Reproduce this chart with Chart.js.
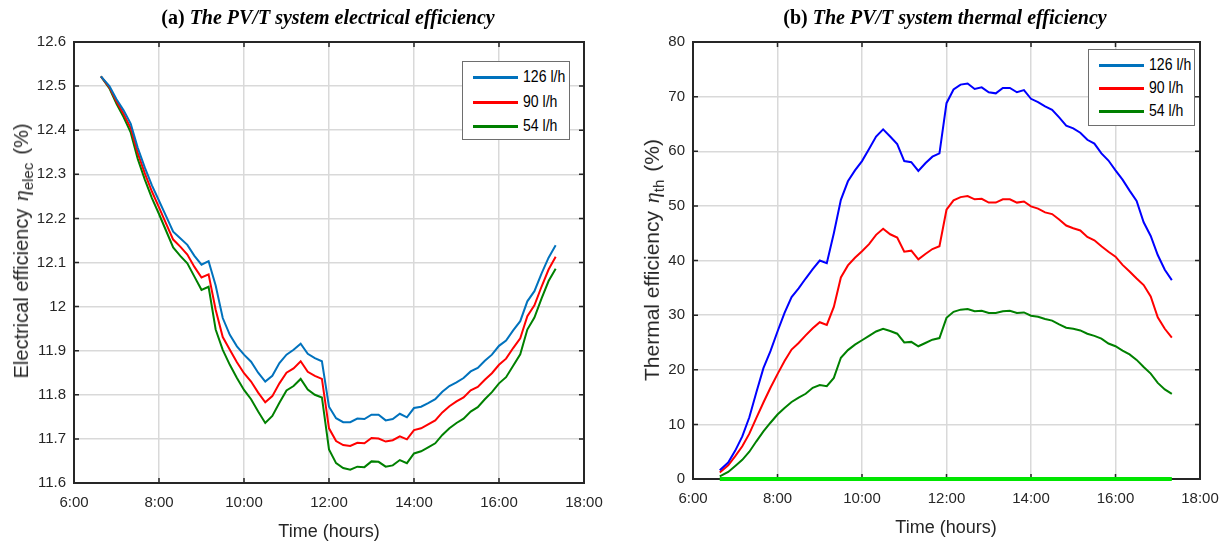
<!DOCTYPE html>
<html>
<head>
<meta charset="utf-8">
<script src="https://cdn.jsdelivr.net/npm/chart.js@4.4.1/dist/chart.umd.min.js"></script>
<style>
  body{margin:0;background:#fff;width:1228px;height:546px;position:relative;overflow:hidden;font-family:"Liberation Sans",Arial,sans-serif;color:#262626;}
  .box{position:absolute;top:0;height:546px;}
  .title{position:absolute;top:6px;transform:translateX(-50%);white-space:nowrap;font-family:"Liberation Serif","Times New Roman",serif;font-weight:bold;font-size:20px;color:#000;}
  .title i{font-style:italic;}
  .xlab{position:absolute;transform:translate(-50%,-50%);font-size:18px;white-space:nowrap;}
  .ylab{position:absolute;transform:translate(-50%,-50%) rotate(-90deg);font-size:20px;white-space:nowrap;}
  .ylab i{font-family:"Liberation Serif",serif;font-size:22px;margin-left:2px;}
  .ylab sub{font-size:15px;margin-right:8px;}
  .legend{position:absolute;background:#fff;border:1px solid #6e6e6e;font-family:"Liberation Sans",Arial,sans-serif;font-size:16px;color:#000;}
  .legend div{position:absolute;left:10px;height:20px;line-height:20px;white-space:nowrap;}
  .legend span.ln{display:inline-block;width:45px;height:3px;vertical-align:middle;margin-right:5px;}
  .legend span.tx{display:inline-block;transform:scaleX(0.88);transform-origin:left center;}
</style>
</head>
<body>
<div class="box" style="left:0;width:614px;"><canvas id="elecChart"></canvas></div>
<div class="box" style="left:614px;width:614px;"><canvas id="thermChart"></canvas></div>

<div class="title" style="left:328px;">(a) <i>The PV/T system electrical efficiency</i></div>
<div class="title" style="left:945px;">(b) <i>The PV/T system thermal efficiency</i></div>
<div class="xlab" style="left:329px;top:531px;">Time (hours)</div>
<div class="xlab" style="left:946px;top:527px;">Time (hours)</div>
<div class="ylab" style="left:22px;top:251px;">Electrical efficiency <i>η</i><sub>elec</sub>(%)</div>
<div class="ylab" style="left:653px;top:260px;font-size:21px;">Thermal efficiency <i>η</i><sub>th</sub>(%)</div>
<div class="legend" id="elecLegend" style="left:462px;top:61px;width:106px;height:77px;"></div>
<div class="legend" id="thermLegend" style="left:1088px;top:49px;width:105px;height:75px;"></div>

<script>
// sample times (every 10 min)
const times = ["6:38","6:50","7:00","7:10","7:20","7:30","7:40","7:50",
  "8:00","8:10","8:20","8:30","8:40","8:50",
  "9:00","9:10","9:20","9:30","9:40","9:50",
  "10:00","10:10","10:20","10:30","10:40","10:50",
  "11:00","11:10","11:20","11:30","11:40","11:50",
  "12:00","12:10","12:20","12:30","12:40","12:50",
  "13:00","13:10","13:20","13:30","13:40","13:50",
  "14:00","14:10","14:20","14:30","14:40","14:50",
  "15:00","15:10","15:20","15:30","15:40","15:50",
  "16:00","16:10","16:20","16:30","16:40","16:50",
  "17:00","17:10","17:20"];

const flowLabels = ["126 l/h","90 l/h","54 l/h"];

// electrical efficiency (%)
const elec126 = [12.522,12.500,12.470,12.445,12.415,12.360,12.315,12.275,
  12.240,12.205,12.170,12.155,12.140,12.115,
  12.095,12.103,12.048,11.974,11.936,11.910,
  11.891,11.875,11.850,11.830,11.843,11.872,
  11.891,11.902,11.916,11.893,11.883,11.876,
  11.773,11.747,11.738,11.738,11.746,11.745,
  11.755,11.755,11.742,11.745,11.757,11.749,
  11.770,11.773,11.781,11.790,11.807,11.820,
  11.828,11.838,11.853,11.861,11.877,11.891,
  11.911,11.923,11.946,11.967,12.012,12.035,
  12.075,12.111,12.139];
const elec90 = [12.522,12.497,12.465,12.437,12.405,12.348,12.302,12.261,
  12.225,12.188,12.152,12.136,12.118,12.090,
  12.066,12.073,11.993,11.931,11.902,11.874,
  11.849,11.830,11.805,11.783,11.797,11.826,
  11.850,11.860,11.876,11.852,11.843,11.836,
  11.724,11.695,11.686,11.684,11.691,11.690,
  11.702,11.701,11.694,11.697,11.706,11.699,
  11.720,11.724,11.733,11.742,11.760,11.774,
  11.785,11.794,11.810,11.818,11.834,11.849,
  11.868,11.882,11.906,11.928,11.978,12.003,
  12.045,12.084,12.113];
const elec54 = [12.522,12.495,12.460,12.430,12.395,12.335,12.288,12.246,
  12.210,12.172,12.134,12.115,12.098,12.068,
  12.038,12.045,11.948,11.902,11.868,11.838,
  11.811,11.790,11.762,11.736,11.752,11.782,
  11.810,11.820,11.836,11.812,11.800,11.794,
  11.676,11.645,11.634,11.630,11.637,11.636,
  11.649,11.648,11.637,11.640,11.652,11.645,
  11.667,11.672,11.681,11.690,11.709,11.724,
  11.736,11.746,11.762,11.772,11.790,11.806,
  11.826,11.840,11.866,11.892,11.948,11.975,
  12.018,12.058,12.086];

// thermal efficiency (%)
const therm126 = [1.6,3.0,5.2,7.8,11.3,15.9,20.3,23.4,
  27.0,30.4,33.3,34.9,36.7,38.4,
  40.0,39.5,45.0,51.1,54.5,56.5,
  58.2,60.4,62.7,64.0,62.7,61.3,
  58.2,58.0,56.4,57.8,59.0,59.6,
  68.8,71.3,72.2,72.4,71.4,71.7,
  70.8,70.6,71.6,71.6,70.8,71.2,
  69.6,69.0,68.2,67.6,66.2,64.7,
  64.2,63.4,62.1,61.4,59.6,58.3,
  56.5,54.8,52.8,50.9,47.0,44.5,
  41.0,38.3,36.4];
const therm90 = [1.2,2.5,4.2,6.0,8.3,11.2,14.0,16.7,
  19.2,21.6,23.7,24.9,26.3,27.6,
  28.7,28.2,31.5,36.9,39.1,40.5,
  41.7,43.0,44.7,45.8,44.8,44.2,
  41.6,41.8,40.2,41.2,42.1,42.6,
  49.3,51.0,51.6,51.8,51.2,51.3,
  50.6,50.6,51.2,51.2,50.6,50.8,
  49.9,49.5,48.8,48.5,47.5,46.4,
  45.9,45.5,44.3,43.7,42.6,41.6,
  40.7,39.2,38.0,36.7,35.5,33.4,
  29.6,27.5,25.9];
const therm54 = [0.5,1.3,2.4,3.5,5.0,6.9,8.7,10.3,
  11.8,13.0,14.1,14.9,15.6,16.7,
  17.2,17.0,18.5,22.2,23.6,24.6,
  25.4,26.2,27.0,27.5,27.1,26.6,
  25.0,25.1,24.3,24.9,25.5,25.8,
  29.5,30.6,31.0,31.1,30.7,30.8,
  30.4,30.4,30.7,30.8,30.4,30.5,
  29.9,29.7,29.3,29.0,28.3,27.7,
  27.5,27.2,26.6,26.2,25.7,24.8,
  24.3,23.5,22.8,21.8,20.5,19.3,
  17.6,16.4,15.6];

// green zero line along the time axis (right plot)
const zeroTimes = ["6:38","17:20"];
const zeroValues = [0,0];

// tick labels
const hourTicks = ["6:00","8:00","10:00","12:00","14:00","16:00","18:00"];
const elecTicks = ["11.6","11.7","11.8","11.9","12","12.1","12.2","12.3","12.4","12.5","12.6"];
const thermTicks = ["0","10","20","30","40","50","60","70","80"];

const elecColors = ["#0072BD","#FF0000","#008000"];
const thermColors = ["#0000FF","#FF0000","#008000"];
const legendColors = ["#0072BD","#FF0000","#008000"];

function toHours(s){
    let p = s.split(":");
    return Number(p[0]) + Number(p[1])/60;
}
function points(tArr, vArr){
    return vArr.map((v,i)=>({x:toHours(tArr[i]), y:v}));
}

// MATLAB style box with inward ticks
const boxPlugin = {
    id:"boxPlugin",
    beforeDatasetsDraw(chart){
        const {ctx, chartArea:a, scales} = chart;
        ctx.save();
        ctx.strokeStyle = "#262626";
        ctx.lineWidth = 1.5;
        ctx.beginPath();
        scales.x.ticks.forEach(t=>{
            let px = scales.x.getPixelForValue(t.value);
            ctx.moveTo(px, a.bottom); ctx.lineTo(px, a.bottom-5);
            ctx.moveTo(px, a.top); ctx.lineTo(px, a.top+5);
        });
        scales.y.ticks.forEach(t=>{
            let py = scales.y.getPixelForValue(t.value);
            ctx.moveTo(a.left, py); ctx.lineTo(a.left+5, py);
            ctx.moveTo(a.right, py); ctx.lineTo(a.right-5, py);
        });
        ctx.stroke();
        ctx.lineWidth = 2;
        ctx.strokeRect(a.left, a.top, a.right-a.left, a.bottom-a.top);
        ctx.restore();
    }
};

function makeChart(id, datasets, yLabels, yWidth, xHeight, padRight){
    const ctx = document.getElementById(id).getContext("2d");
    const yVals = yLabels.map(Number);
    return new Chart(ctx,{
        type:"line",
        data:{datasets:datasets},
        options:{
            responsive:true,
            maintainAspectRatio:false,
            animation:false,
            events:[],
            layout:{padding:{top:42, right:padRight, left:0, bottom:0}},
            plugins:{legend:{display:false}, tooltip:{enabled:false}},
            elements:{point:{radius:0}, line:{tension:0}},
            scales:{
                x:{
                    type:"linear", min:6, max:18,
                    afterBuildTicks:s=>{ s.ticks = hourTicks.map(h=>({value:toHours(h)})); },
                    afterFit:s=>{ s.height = xHeight; s.paddingLeft = 0; s.paddingRight = 0; },
                    ticks:{padding:11, color:"#262626", font:{family:"Liberation Sans", size:15},
                        maxRotation:0, autoSkip:false, callback:(v,i)=>hourTicks[i]},
                    grid:{color:"#d9d9d9", lineWidth:1.5, drawTicks:false},
                    border:{display:false}
                },
                y:{
                    min:yVals[0], max:yVals[yVals.length-1],
                    afterBuildTicks:s=>{ s.ticks = yVals.map(v=>({value:v})); },
                    afterFit:s=>{ s.width = yWidth; s.paddingTop = 0; s.paddingBottom = 0; },
                    ticks:{padding:8, color:"#262626", font:{family:"Liberation Sans", size:15},
                        autoSkip:false, callback:(v,i)=>yLabels[i]},
                    grid:{color:"#d9d9d9", lineWidth:1.5, drawTicks:false},
                    border:{display:false}
                }
            }
        },
        plugins:[boxPlugin]
    });
}

const elecSets = [elec126, elec90, elec54].map((arr,i)=>({
    label:flowLabels[i], data:points(times, arr),
    borderColor:elecColors[i], borderWidth:2, fill:false
}));
makeChart("elecChart", elecSets, elecTicks, 74, 63, 30);

const thermSets = [therm126, therm90, therm54].map((arr,i)=>({
    label:flowLabels[i], data:points(times, arr),
    borderColor:thermColors[i], borderWidth:2, fill:false
}));
thermSets.push({label:"zero", data:points(zeroTimes, zeroValues),
    borderColor:"#00E600", borderWidth:4, fill:false, clip:false});
makeChart("thermChart", thermSets, thermTicks, 79, 67, 28);

// legends
function buildLegend(id, rows){
    let el = document.getElementById(id);
    flowLabels.forEach((lab,i)=>{
        el.innerHTML += `<div style="top:${rows[i]}px;"><span class="ln" style="background:${legendColors[i]}"></span><span class="tx">${lab}</span></div>`;
    });
}
buildLegend("elecLegend", [5,30,54]);
buildLegend("thermLegend", [5,28,51]);
</script>
</body>
</html>
